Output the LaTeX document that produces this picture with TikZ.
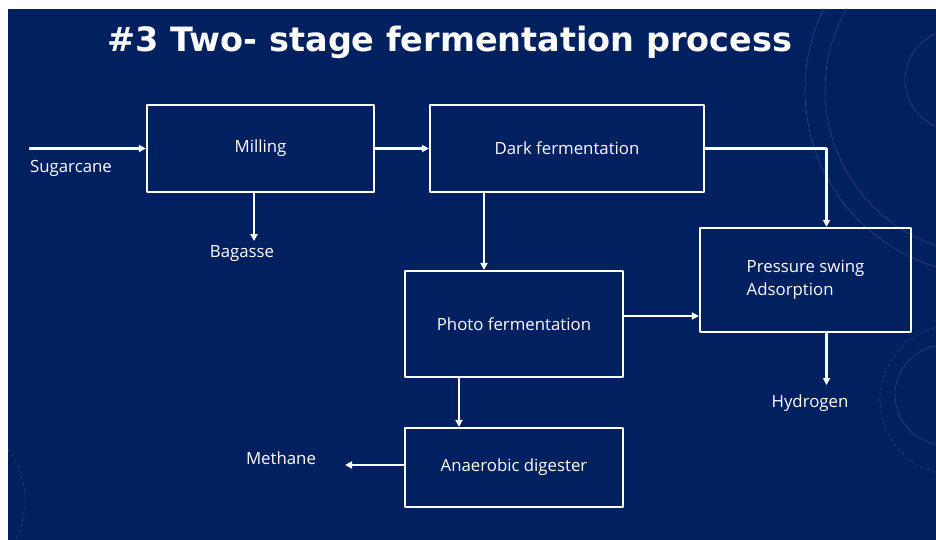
\documentclass[tikz,border=0pt]{standalone}
\usepackage{fontspec}
\setmainfont{Open Sans}
\newfontfamily\titlefont{DejaVu Sans}
\usetikzlibrary{arrows.meta, positioning}
\definecolor{slideblue}{RGB}{0,32,96}
\definecolor{ringblue}{RGB}{75,100,155}

\begin{document}
\begin{tikzpicture}[x=1pt, y=-1pt, line join=round,
    box/.style={draw=white, line width=2.2pt, inner sep=0pt, text=white, font=\fontsize{16.8}{23}\selectfont},
    lbl/.style={text=white, inner sep=0pt, font=\fontsize{16.8}{20}\selectfont},
    arr/.style={white, line width=2.2pt, -{Triangle[length=7pt, width=7pt]}},
    ring/.style={ringblue, line width=0.6pt, opacity=0.5}]
  \useasboundingbox (0,0) rectangle (936,540);
  \fill[white] (0,0) rectangle (936,540);
  \fill[slideblue] (8,9) rectangle (936,540);   % slide
  \begin{scope}   % faint rings behind
    \clip (8,9) rectangle (936,540);
    \draw[ring] (955,80) circle (50);
    \draw[ring] (990,90) circle (165);
    \draw[ring] (990,90) circle (185);
    \draw[ring, dashed] (955,400) circle (75);
    \draw[ring] (945,395) circle (50);
    \draw[ring, dashed] (-60,500) circle (85);
  \end{scope}

  \node[text=white, font=\titlefont\bfseries\fontsize{33.5}{40}\selectfont] (title) at (450,42) {\#3 Two- stage fermentation process};

  \node[box, minimum width=227, minimum height=87] (mill) at (260.5,148.5) {Milling};
  \node[box, minimum width=274, minimum height=87] (dark) at (567,148.5) {Dark fermentation};
  \node[box, minimum width=218, minimum height=106] (photo) at (514,324) {Photo fermentation};
  \node[box, minimum width=211, minimum height=104, align=left] (psa) at (805.5,280) {Pressure swing\\Adsorption};
  \node[box, minimum width=218, minimum height=79] (anaer) at (514,467.5) {Anaerobic digester};

  \node[lbl] (cane) at (71,168) {Sugarcane};
  \node[lbl] (bag) at (242,254) {Bagasse};
  \node[lbl] (hyd) at (810,403) {Hydrogen};
  \node[lbl] (meth) at (281,458) {Methane};

  \coordinate (feed) at (29,148.5);
  \coordinate (bagend) at (254,241);
  \coordinate (hydend) at (826.5,385);
  \coordinate (methend) at (345,465);

  \draw[arr] (feed) -- (mill.west);
  \draw[arr] (mill) -- (dark);
  \draw[arr] (bagend |- mill.south) -- (bagend);
  \draw[arr] ([xshift=-83]dark.south) -- ([xshift=-30]photo.north);
  \draw[arr] (dark.east) -| ([xshift=21]psa.north);
  \draw[arr] ([yshift=8]photo.east) -- ([yshift=8]photo.east -| psa.west);
  \draw[arr] (hydend |- psa.south) -- (hydend);
  \draw[arr] ([xshift=-55]photo.south) -- ([xshift=-55]anaer.north);
  \draw[arr] (methend -| anaer.west) -- (methend);
\end{tikzpicture}
\end{document}
